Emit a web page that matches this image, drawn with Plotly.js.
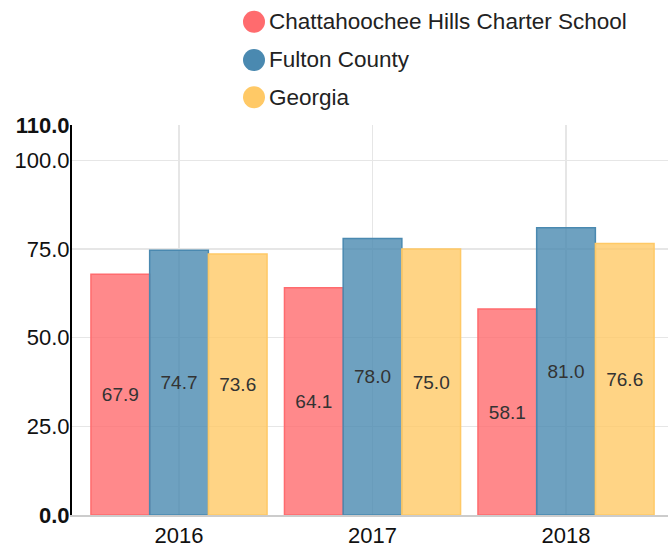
<!DOCTYPE html>
<html>
<head>
<meta charset="utf-8">
<script src="https://cdn.plot.ly/plotly-3.0.1.min.js"></script>
<style>html,body{margin:0;padding:0;background:#fff}#chart{width:668px;height:547px}</style>
</head>
<body>
<div id="chart"></div>
<script>
var years = ['2016', '2017', '2018'];
var seriesNames = ['Chattahoochee Hills Charter School', 'Fulton County', 'Georgia'];
var chattahoochee = [67.9, 64.1, 58.1];
var fulton = [74.7, 78.0, 81.0];
var georgia = [73.6, 75.0, 76.6];
var yTickVals = [0, 25, 50, 75, 100, 110];
var yTickText = ['<b>0.0</b>', '25.0', '50.0', '75.0', '100.0', '<b>110.0</b>'];

var lineColors = ['#FF6B6E', '#4A89B0', '#FFC966'];
var fillColors = ['rgba(255,107,110,0.8)', 'rgba(74,137,176,0.8)', 'rgba(255,201,102,0.8)'];
var values = [chattahoochee, fulton, georgia];

var traces = values.map(function (v, i) {
  return {
    type: 'bar',
    x: years,
    y: v,
    name: seriesNames[i],
    text: v.map(function (d) { return d.toFixed(1); }),
    textposition: 'inside',
    insidetextanchor: 'middle',
    textangle: 0,
    textfont: {family: 'Liberation Sans, Arial, sans-serif', size: 19, color: '#333'},
    marker: {color: fillColors[i], line: {color: lineColors[i], width: 1.5}},
    showlegend: false,
    hoverinfo: 'none'
  };
});

var plotL = 72, plotR = 668, plotT = 125, plotB = 515;
var W = plotR - plotL, H = plotB - plotT;
var legendCx = 254, legendTextX = 267, legendRows = [21.7, 60, 97.3];

var shapes = [], annotations = [];
seriesNames.forEach(function (n, i) {
  var yp = (plotB - legendRows[i]) / H;
  shapes.push({
    type: 'circle', xref: 'paper', yref: 'paper',
    xsizemode: 'pixel', ysizemode: 'pixel',
    xanchor: (legendCx - plotL) / W, yanchor: yp,
    x0: -11, x1: 11, y0: -11, y1: 11,
    fillcolor: lineColors[i], line: {width: 0}
  });
  annotations.push({
    xref: 'paper', yref: 'paper',
    x: (legendTextX - plotL) / W, y: yp,
    xanchor: 'left', yanchor: 'middle',
    text: n, showarrow: false,
    font: {family: 'Liberation Sans, Arial, sans-serif', size: 22.5, color: '#222'}
  });
});

var layout = {
  width: 668, height: 547,
  margin: {l: plotL, r: 0, t: plotT, b: 547 - plotB, pad: 0},
  paper_bgcolor: '#fff', plot_bgcolor: '#fff',
  barmode: 'group',
  bargap: 0.09,
  bargroupgap: 0,
  font: {family: 'Liberation Sans, Arial, sans-serif', size: 22, color: '#111'},
  xaxis: {
    type: 'category',
    range: [-0.553, 2.527],
    showgrid: true, gridcolor: '#e6e6e6', gridwidth: 1.5,
    showline: true, linecolor: '#cccccc', linewidth: 1.5,
    ticks: '', zeroline: false,
    tickfont: {size: 22, color: '#111'}
  },
  yaxis: {
    range: [0, 110],
    tickmode: 'array', tickvals: yTickVals, ticktext: yTickText,
    showgrid: true, gridcolor: '#e6e6e6', gridwidth: 1.5,
    showline: true, linecolor: '#000', linewidth: 2,
    zeroline: false, ticks: '',
    ticklabelstandoff: -4,
    tickfont: {size: 22, color: '#111'}
  },
  shapes: shapes,
  annotations: annotations,
  showlegend: false
};

Plotly.newPlot('chart', traces, layout, {displayModeBar: false, staticPlot: true});
</script>
</body>
</html>
